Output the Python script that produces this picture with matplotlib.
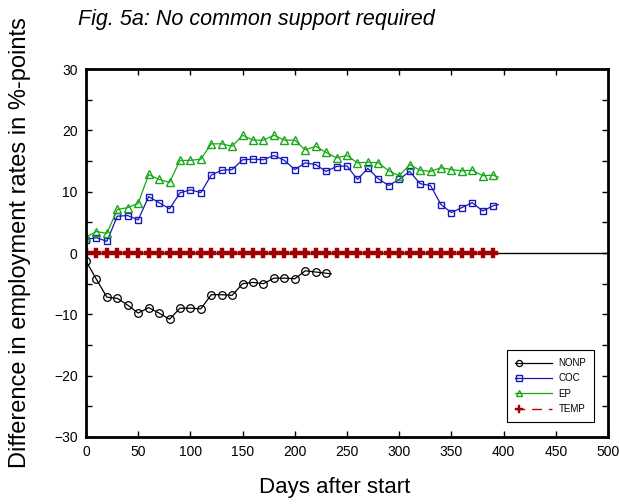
import matplotlib.pyplot as plt
from matplotlib.legend_handler import HandlerLine2D
from matplotlib.lines import Line2D
from matplotlib.ticker import MultipleLocator

plt.rcParams['font.family'] = ['Liberation Sans', 'DejaVu Sans']

# Employment-rate differences (%-points) by days after programme start.
# Markers every 10 days; the last entry of each series only extends the line.
days_long = list(range(0, 400, 10)) + [395]
days_nonp = list(range(0, 240, 10)) + [235]

nonp = [-1.3, -4.3, -7.2, -7.4, -8.5, -9.8, -8.9, -9.8, -10.8, -9.0,
        -9.0, -9.1, -6.8, -6.8, -6.9, -5.0, -4.8, -5.0, -4.1, -4.1,
        -4.2, -2.9, -3.1, -3.3, -3.4]
coc = [2.2, 2.5, 1.9, 6.0, 6.1, 5.4, 9.2, 8.2, 7.2, 9.8,
       10.3, 9.85, 12.7, 13.5, 13.6, 15.2, 15.3, 15.2, 15.9, 15.1,
       13.6, 14.7, 14.4, 13.3, 14.1, 14.2, 12.0, 13.8, 12.1, 11.0,
       12.0, 13.3, 11.3, 11.0, 7.9, 6.6, 7.4, 8.2, 6.85, 7.7, 7.9]
ep = [2.6, 3.5, 3.2, 7.1, 7.4, 8.1, 12.8, 12.0, 11.5, 15.1,
      15.1, 15.3, 17.8, 17.8, 17.4, 19.2, 18.4, 18.4, 19.2, 18.4,
      18.4, 16.8, 17.4, 16.4, 15.5, 15.9, 14.7, 14.8, 14.7, 13.4,
      12.6, 14.4, 13.5, 13.3, 13.9, 13.6, 13.4, 13.5, 12.6, 12.7, 12.35]
temp = [0.0] * 40


class LeftMarkerHandler(HandlerLine2D):
    # legend sample: marker at the left end of the line instead of the middle
    def create_artists(self, legend, orig_handle, xdescent, ydescent,
                       width, height, fontsize, trans):
        y = (height - ydescent) / 2
        line = Line2D([-xdescent, -xdescent + width], [y, y])
        self.update_prop(line, orig_handle, legend)
        line.set_marker('None')
        mark = Line2D([-xdescent + 0.12 * width], [y])
        self.update_prop(mark, orig_handle, legend)
        mark.set_linestyle('None')
        mark.set_markevery(None)
        mark.set_markersize(orig_handle.get_markersize() * 0.8)
        line.set_transform(trans)
        mark.set_transform(trans)
        return [line, mark]


fig = plt.figure(figsize=(6.19, 5.04), dpi=100)
ax = fig.add_axes([86 / 619, 1 - 437 / 504, 522 / 619, 368 / 504])

ax.axhline(0, color='black', lw=1.0, zorder=1)

l1, = ax.plot(days_nonp, nonp, color='black', lw=0.9, marker='o', ms=5.5,
              mfc='none', mec='black', mew=0.9, markevery=slice(0, -1))
l2, = ax.plot(days_long, coc, color='#1818b0', lw=0.9, marker='s', ms=5,
              mfc='none', mec='#1818c0', mew=1.0, markevery=slice(0, -1))
l3, = ax.plot(days_long, ep, color='#18a818', lw=0.9, marker='^', ms=6,
              mfc='none', mec='#18a818', mew=1.0, markevery=slice(0, -1))
l4, = ax.plot(days_long[:-1], temp, color='#b00000', lw=1.0,
              dashes=(7, 5), dash_capstyle='butt',
              marker='P', ms=6.5, mfc='#a00000', mec='#a00000', mew=0.3)

ax.set_xlim(0, 500)
ax.set_ylim(-30, 30)
ax.xaxis.set_major_locator(MultipleLocator(50))
ax.yaxis.set_major_locator(MultipleLocator(10))
ax.yaxis.set_minor_locator(MultipleLocator(5))
ax.tick_params(which='both', direction='in', top=True, right=True,
               length=4, width=1, labelsize=10, pad=6)

for sp in ax.spines.values():
    sp.set_linewidth(2)

leg = ax.legend([l1, l2, l3, l4], ['NONP', 'COC', 'EP', 'TEMP'],
                loc='lower right', bbox_to_anchor=(0.973, 0.041),
                borderaxespad=0, fontsize=7, handlelength=3.8,
                handletextpad=0.7, labelspacing=0.55, borderpad=0.8,
                fancybox=False, framealpha=1, edgecolor='black',
                handler_map={l: LeftMarkerHandler() for l in [l1, l2, l3, l4]})
leg.get_frame().set_linewidth(0.8)

fig.text(78 / 619, 1 - 20 / 504, 'Fig. 5a: No common support required',
         fontsize=15.5, style='italic', ha='left', va='center')
fig.text(20 / 619, 1 - 243 / 504, 'Difference in employment rates in %-points',
         fontsize=17, rotation=90, ha='center', va='center')
fig.text(335 / 619, 1 - 487 / 504, 'Days after start',
         fontsize=16, ha='center', va='center')

fig.savefig('out.png', dpi=100)
